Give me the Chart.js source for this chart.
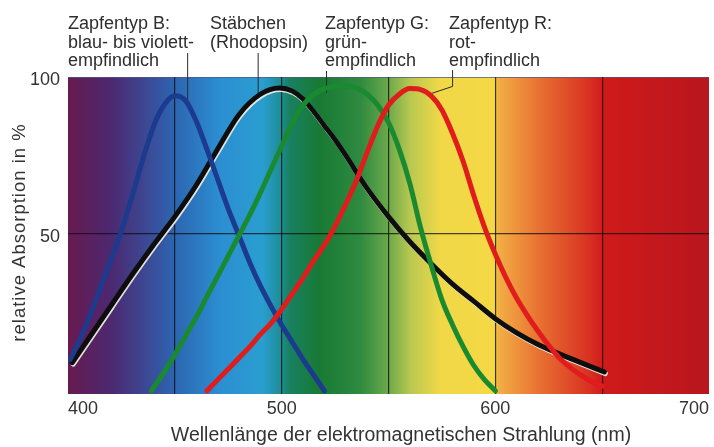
<!DOCTYPE html>
<html>
<head>
<meta charset="utf-8">
<script src="https://cdn.jsdelivr.net/npm/chart.js@4/dist/chart.umd.min.js"></script>
<style>
  html, body { margin: 0; padding: 0; background: #ffffff; }
  canvas { display: block; }
</style>
</head>
<body>
<canvas id="c" width="714" height="447"></canvas>
<script>
// ---- data (wavelength in nm, relative absorption in %) ----
const blueNm   = [401, 406, 412, 418, 424, 430, 436, 441, 446, 450, 455, 460, 465, 470, 475, 480, 485, 490, 495, 500, 505, 510, 515, 520];
const blueAbs  = [10, 17, 27, 38, 49, 62, 76, 86, 92, 94, 92.5, 86, 77, 67.5, 58, 49.5, 41, 33.5, 27, 21, 15.5, 10, 5, 0];

const rodNm    = [402, 410, 420, 430, 440, 450, 460, 470, 480, 490, 499, 505, 510, 515, 520, 525, 530, 540, 550, 560, 570, 580, 590, 600, 610, 620, 630, 640, 651];
const rodAbs   = [9, 17, 27, 37, 46.5, 55.5, 65.5, 77, 88, 94.5, 96.5, 95.5, 93, 89, 84.5, 80, 75, 64.5, 55.5, 47.5, 40.5, 34, 28.5, 23, 18.5, 14.8, 11.8, 9, 6];

const greenNm  = [439, 445, 450, 455, 460, 465, 470, 475, 480, 485, 490, 495, 500, 505, 510, 515, 520, 525, 530, 535, 540, 545, 550, 555, 560, 565, 570, 575, 580, 585, 590, 595, 600];
const greenAbs = [0, 6, 11.5, 17.5, 23.5, 30, 36.5, 43, 49.5, 56, 63, 70.5, 78, 85.5, 91, 94.5, 96.3, 97, 97.2, 96.5, 94.5, 91, 85.5, 77, 66, 52, 40, 29, 21, 14, 8, 3.5, 0];

const redNm    = [465, 470, 475, 480, 485, 490, 495, 500, 505, 510, 515, 520, 525, 530, 535, 540, 545, 550, 555, 560, 565, 570, 575, 580, 585, 590, 595, 600, 605, 610, 615, 620, 625, 630, 635, 640, 645, 650];
const redAbs   = [0, 3.5, 7, 10.5, 14, 18, 21.5, 26, 31, 36, 41.5, 46.5, 52.5, 59.5, 67, 76, 84.5, 91, 94.5, 96.3, 96, 94, 89.5, 82, 73, 62, 52, 43.5, 36, 29.5, 24, 19, 14.5, 10.5, 7.5, 5, 3, 1.5];

const xTicks = [400, 500, 600, 700];
const yTicks = [50, 100];
const gridNm = [450, 500, 550, 600, 650];

const labelB = ['Zapfentyp B:', 'blau- bis violett-', 'empfindlich'];
const labelRod = ['Stäbchen', '(Rhodopsin)'];
const labelG = ['Zapfentyp G:', 'grün-', 'empfindlich'];
const labelR = ['Zapfentyp R:', 'rot-', 'empfindlich'];
const xTitle = 'Wellenlänge der elektromagnetischen Strahlung (nm)';
const yTitle = 'relative Absorption in %';

const FONT = '"Liberation Sans", Arial, Helvetica, sans-serif';
const TEXT = '#2e2e2e';

function pts(xs, ys) { return xs.map((x, i) => ({ x: x, y: ys[i] })); }

// spectrum background
const spectrumBg = {
  id: 'spectrumBg',
  beforeDraw(chart) {
    const { ctx, chartArea: a } = chart;
    const g = ctx.createLinearGradient(a.left, 0, a.right, 0);
    const stops = [
      [0.000, '#681a50'], [0.066, '#4c2870'], [0.128, '#3a4c98'], [0.168, '#2c66b2'],
      [0.237, '#2c8ed2'], [0.303, '#2a9ed0'], [0.328, '#1f90a0'], [0.346, '#188060'],
      [0.393, '#187a34'], [0.456, '#2e8a40'], [0.499, '#6aa84a'], [0.534, '#b8c850'],
      [0.580, '#f0d848'], [0.664, '#f5d844'], [0.672, '#f2ae44'], [0.736, '#e87032'],
      [0.814, '#d83022'], [0.835, '#d01a1a'], [1.000, '#b8161e']
    ];
    stops.forEach(s => g.addColorStop(s[0], s[1]));
    ctx.save();
    ctx.fillStyle = g;
    ctx.fillRect(a.left, a.top, a.right - a.left, a.bottom - a.top);
    ctx.strokeStyle = 'rgba(80,90,130,0.75)';
    ctx.lineWidth = 1;
    ctx.beginPath();
    ctx.moveTo(a.left, a.top + 0.5);
    ctx.lineTo(a.right, a.top + 0.5);
    ctx.stroke();
    ctx.restore();
  }
};

// light edge under the rhodopsin curve
const curveEdge = {
  id: 'curveEdge',
  beforeDatasetDraw(chart, args) {
    if (args.meta.label === 'Stäbchen') {
      const ctx = chart.ctx;
      ctx.save();
      ctx.shadowColor = 'rgba(235,235,225,0.95)';
      ctx.shadowOffsetX = 1;
      ctx.shadowOffsetY = 1.6;
      ctx.shadowBlur = 0;
    }
  },
  afterDatasetDraw(chart, args) {
    if (args.meta.label === 'Stäbchen') chart.ctx.restore();
  }
};

// labels, titles and leader lines
const annotations = {
  id: 'annotations',
  beforeDatasetsDraw(chart) {
    const { ctx, scales: { x, y } } = chart;
    ctx.save();
    ctx.strokeStyle = '#2a2a2a';
    ctx.lineWidth = 1;
    const line = (p) => {
      ctx.beginPath();
      ctx.moveTo(p[0][0], p[0][1]);
      for (let i = 1; i < p.length; i++) ctx.lineTo(p[i][0], p[i][1]);
      ctx.stroke();
    };
    line([[x.getPixelForValue(456), 53], [x.getPixelForValue(456), y.getPixelForValue(91)]]);
    line([[x.getPixelForValue(489), 53], [x.getPixelForValue(489), y.getPixelForValue(94)]]);
    line([[x.getPixelForValue(521), 71], [x.getPixelForValue(521), y.getPixelForValue(95)]]);
    line([[x.getPixelForValue(580), 70], [x.getPixelForValue(580), y.getPixelForValue(97)],
          [x.getPixelForValue(569), y.getPixelForValue(94.5)]]);
    ctx.restore();
  },
  afterDraw(chart) {
    const { ctx, chartArea: a } = chart;
    ctx.save();
    ctx.fillStyle = TEXT;
    ctx.font = '18px ' + FONT;
    ctx.textBaseline = 'alphabetic';
    ctx.textAlign = 'left';
    const block = (lines, left) => lines.forEach((t, i) => ctx.fillText(t, left, 29 + i * 18.7));
    block(labelB, 68);
    block(labelRod, 210);
    block(labelG, 325);
    block(labelR, 449);
    // axis titles
    ctx.fillStyle = '#333';
    ctx.font = '19.5px ' + FONT;
    ctx.textAlign = 'center';
    ctx.textBaseline = 'middle';
    ctx.fillText(xTitle, 401, 436);
    ctx.translate(20, (a.top + a.bottom) / 2 - 3);
    ctx.rotate(-Math.PI / 2);
    ctx.font = '18.5px ' + FONT;
    if ('letterSpacing' in ctx) ctx.letterSpacing = '1px';
    ctx.fillText(yTitle, 0, 0);
    ctx.restore();
  }
};

new Chart(document.getElementById('c'), {
  type: 'line',
  data: {
    datasets: [
      { label: 'Zapfentyp R', data: pts(redNm, redAbs), borderColor: '#e01c1c', borderWidth: 5 },
      { label: 'Zapfentyp G', data: pts(greenNm, greenAbs), borderColor: '#1a8a30', borderWidth: 5 },
      { label: 'Zapfentyp B', data: pts(blueNm, blueAbs), borderColor: '#1c3a8e', borderWidth: 5 },
      { label: 'Stäbchen', data: pts(rodNm, rodAbs), borderColor: '#0e0e0e', borderWidth: 5 }
    ].map(d => Object.assign(d, { pointRadius: 0, fill: false, cubicInterpolationMode: 'monotone', borderCapStyle: 'round' }))
  },
  options: {
    responsive: false,
    animation: false,
    events: [],
    layout: { padding: { top: 77, right: 5, left: 0, bottom: 0 } },
    plugins: { legend: { display: false }, tooltip: { enabled: false } },
    scales: {
      x: {
        type: 'linear', min: 400, max: 700,
        afterFit(s) { s.height = 53; },
        afterBuildTicks(s) { s.ticks = [400, 450, 500, 550, 600, 650, 700].map(v => ({ value: v })); },
        ticks: {
          align: 'inner', padding: 4, color: '#333', font: { family: FONT, size: 18 },
          autoSkip: false, maxRotation: 0,
          callback: (v) => xTicks.includes(v) ? String(v) : ''
        },
        grid: {
          drawTicks: false,
          color: (c) => gridNm.includes(c.tick && c.tick.value) ? 'rgba(15,15,15,0.8)' : 'rgba(0,0,0,0)',
          lineWidth: 1.2
        },
        border: { display: false },
        title: { display: false }
      },
      y: {
        min: -1, max: 100,
        afterFit(s) { s.width = 68; },
        afterBuildTicks(s) { s.ticks = yTicks.map(v => ({ value: v })); },
        ticks: { padding: 8, labelOffset: 3, color: '#333', font: { family: FONT, size: 18 } },
        grid: {
          drawTicks: false,
          color: (c) => (c.tick && c.tick.value === 50) ? 'rgba(15,15,15,0.75)' : 'rgba(0,0,0,0)',
          lineWidth: 1.2
        },
        border: { display: false },
        title: { display: false }
      }
    }
  },
  plugins: [spectrumBg, curveEdge, annotations]
});
</script>
</body>
</html>
